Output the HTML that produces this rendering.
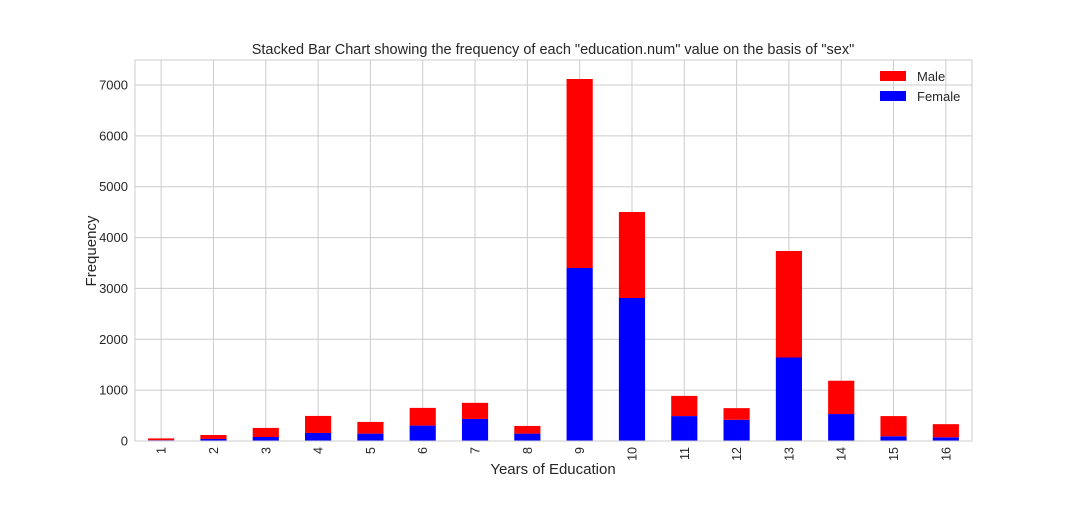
<!DOCTYPE html>
<html><head><meta charset="utf-8"><style>
body{margin:0;background:#fff;}
svg text{font-family:"Liberation Sans",sans-serif;fill:#262626;}
</style></head><body>
<svg id="chart" width="1080" height="504" xmlns="http://www.w3.org/2000/svg">
<text x="553" y="54" font-size="14.5" text-anchor="middle">Stacked Bar Chart showing the frequency of each "education.num" value on the basis of "sex"</text>
<g id="grid"></g>
<g id="bars"></g>
<rect x="135" y="60" width="837" height="381" fill="none" stroke="#cccccc" stroke-width="1"/>
<g id="ticks"></g>
<text x="553" y="474" font-size="15" text-anchor="middle">Years of Education</text>
<text transform="translate(96,251) rotate(-90)" font-size="15" text-anchor="middle">Frequency</text>
<g>
<rect x="880" y="71" width="26" height="10" fill="#ff0000"/>
<text x="917" y="81" font-size="13">Male</text>
<rect x="880" y="91" width="26" height="10" fill="#0000ff"/>
<text x="917" y="101" font-size="13">Female</text>
</g>
</svg>
<script>
const categories=["1","2","3","4","5","6","7","8","9","10","11","12","13","14","15","16"];
const femaleValues=[16,40,79,158,145,303,434,145,3402,2812,490,417,1642,530,93,73];
const maleValues=[35,78,178,335,230,348,316,151,3716,1691,397,229,2094,655,397,258];
const yTicks=[0,1000,2000,3000,4000,5000,6000,7000];
const NS="http://www.w3.org/2000/svg";
const L=135,R=972,T=60,B=441;
const yMax=7000*(B-T)/(441-85);
function y(v){return B-v/yMax*(B-T);}
const step=(R-L)/categories.length;
function x(i){return L+step*(i+0.5);}
function mk(tag,attrs,parent){const e=document.createElementNS(NS,tag);for(const k in attrs)e.setAttribute(k,attrs[k]);parent.appendChild(e);return e;}
const grid=document.getElementById('grid'),bars=document.getElementById('bars'),ticks=document.getElementById('ticks');
yTicks.forEach(t=>{
 const l=mk('line',{x1:L,x2:R,y1:y(t),y2:y(t),stroke:'#cccccc'},grid);
 
 
 const tx=mk('text',{x:128,y:y(t)+4.5,'font-size':13,'text-anchor':'end'},ticks);
 tx.textContent=t;
 
 
});
categories.forEach((c,i)=>{
 const l=mk('line',{x1:x(i),x2:x(i),y1:T,y2:B,stroke:'#cccccc'},grid);
 
 
 const w=step/2,f=femaleValues[i],m=maleValues[i];
 const fb=mk('rect',{x:x(i)-w/2,y:y(f),width:w,height:B-y(f),fill:'#0000ff'},bars);
 
 
 const mb=mk('rect',{x:x(i)-w/2,y:y(f+m),width:w,height:y(f)-y(f+m),fill:'#ff0000'},bars);
 
 
 const tx=mk('text',{transform:`translate(${x(i)+4.5},${447}) rotate(-90)`,'font-size':12.5,'text-anchor':'end'},ticks);
 tx.textContent=c;
 
 
});
</script>
</body></html>
